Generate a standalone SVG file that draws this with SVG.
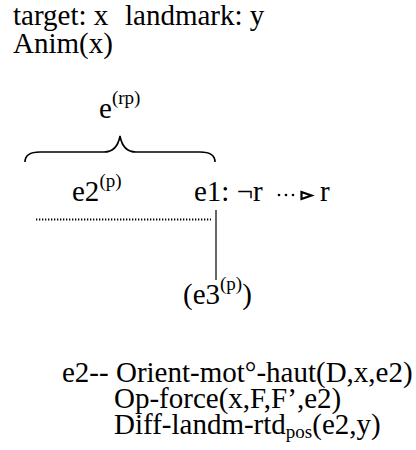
<svg xmlns="http://www.w3.org/2000/svg" width="416" height="450" viewBox="0 0 416 450">
<style>
text{font-family:"Liberation Serif","Times New Roman",serif;font-size:29px;fill:#000}
.sup{font-size:19px}
.ln{stroke:#000;fill:none}
.dot{fill:#000}
</style>
<rect width="416" height="450" fill="#fff"/>
<g id="header">
<text x="13" y="25">target: x<tspan x="125">landmark: y</tspan></text>
<text x="13" y="53">Anim(x)</text>
</g>
<g id="e-rp">
<text x="99" y="118">e<tspan class="sup" dy="-14">(rp)</tspan></text>
</g>
<g id="connectors">
<path class="ln" stroke-width="1.6" d="M25,162 C25,156 30,152 40,152 L104,152 C113,152 118,147 120,136 C122,147 127,152 136,152 L200,152 C210,152 215,156 215,162"/>
<line class="ln" x1="36" y1="219.5" x2="211" y2="219.5" stroke-width="1.8" stroke-dasharray="1.3 1.7"/>
<line class="ln" x1="216" y1="210" x2="216" y2="280" stroke-width="1.2"/>
<g id="dotted-arrow">
<circle class="dot" cx="279" cy="195" r="1.3"/>
<circle class="dot" cx="286" cy="195" r="1.3"/>
<circle class="dot" cx="293" cy="195" r="1.3"/>
<polygon points="301.5,192 311.5,195.5 301.5,199" fill="#fff" stroke="#000" stroke-width="2.2" stroke-linejoin="miter"/>
</g>
</g>
<g id="e2">
<text x="72" y="201">e2<tspan class="sup" dy="-14">(p)</tspan></text>
</g>
<g id="e1">
<text x="194" y="201">e1: ¬r</text>
<text x="320" y="201">r</text>
</g>
<g id="e3">
<text x="183" y="304">(e3<tspan class="sup" dy="-14">(p)</tspan><tspan dy="14">)</tspan></text>
</g>
<g id="formulas">
<text x="62" y="382">e2-- Orient-mot°-haut(D,x,e2)</text>
<text x="114" y="408">Op-force(x,F,F’,e2)</text>
<text x="114" y="434">Diff-landm-rtd<tspan class="sup" dy="4">pos</tspan><tspan dy="-4">(e2,y)</tspan></text>
</g>
</svg>
